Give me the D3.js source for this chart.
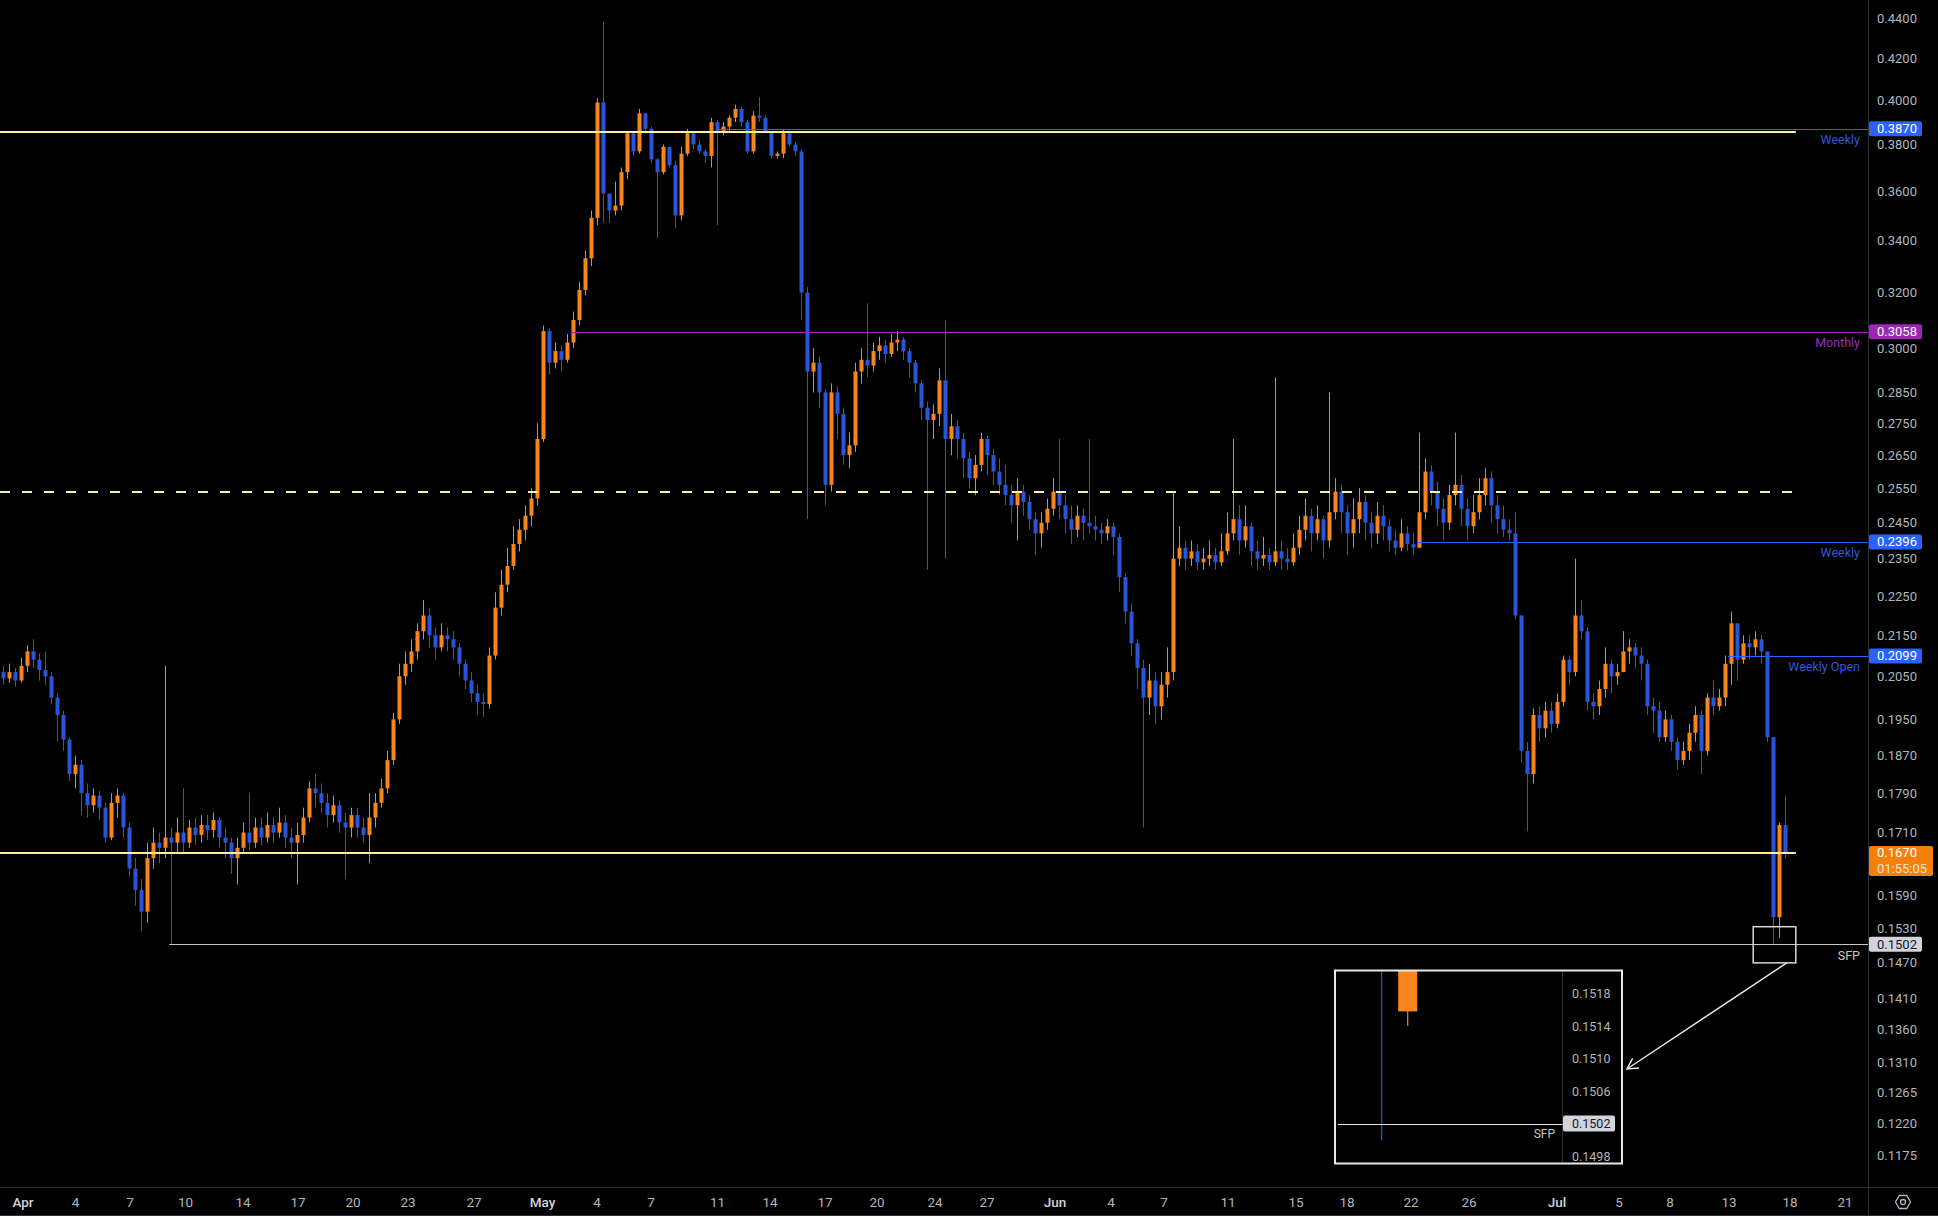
<!DOCTYPE html>
<html><head><meta charset="utf-8">
<script src="https://cdn.jsdelivr.net/npm/d3@7"></script>
<style>
html,body{margin:0;padding:0;background:#000;overflow:hidden;}
svg{display:block;font-family:Roboto,"Noto Sans",sans-serif;}
</style></head>
<body>
<svg id="chart" width="1938" height="1216"></svg>
<script>
// ---------------- DATA ----------------
const firstOpen = 0.2060;
const closes = [
0.2045,0.2060,0.2040,0.2075,0.2110,0.2090,0.2065,0.2050,0.2000,0.1960,
0.1905,0.1830,0.1850,0.1790,0.1765,0.1785,0.1760,0.1700,0.1770,0.1785,
0.1720,0.1640,0.1600,0.1560,0.1660,0.1690,0.1680,0.1700,0.1690,0.1710,
0.1690,0.1720,0.1705,0.1725,0.1715,0.1735,0.1700,0.1690,0.1660,0.1680,
0.1710,0.1690,0.1720,0.1700,0.1725,0.1710,0.1730,0.1700,0.1690,0.1705,
0.1740,0.1800,0.1790,0.1770,0.1745,0.1765,0.1730,0.1720,0.1745,0.1720,
0.1705,0.1740,0.1770,0.1800,0.1860,0.1950,0.2050,0.2080,0.2110,0.2160,
0.2200,0.2150,0.2120,0.2150,0.2140,0.2120,0.2080,0.2040,0.2010,0.1990,
0.1985,0.2100,0.2220,0.2280,0.2330,0.2390,0.2430,0.2470,0.2520,0.2700,
0.3060,0.2950,0.2990,0.2960,0.3020,0.3100,0.3210,0.3330,0.3490,0.3990,
0.3590,0.3520,0.3540,0.3680,0.3850,0.3770,0.3940,0.3870,0.3735,0.3680,
0.3790,0.3710,0.3500,0.3760,0.3850,0.3800,0.3770,0.3750,0.3900,0.3860,
0.3880,0.3920,0.3960,0.3900,0.3770,0.3930,0.3920,0.3860,0.3750,0.3760,
0.3850,0.3800,0.3770,0.3200,0.2920,0.2950,0.2850,0.2560,0.2850,0.2780,
0.2650,0.2680,0.2920,0.2960,0.2940,0.2990,0.3010,0.2980,0.3020,0.3030,
0.2990,0.2950,0.2880,0.2800,0.2760,0.2780,0.2890,0.2700,0.2740,0.2700,
0.2640,0.2580,0.2620,0.2700,0.2650,0.2600,0.2560,0.2530,0.2500,0.2540,
0.2510,0.2460,0.2420,0.2450,0.2490,0.2540,0.2500,0.2460,0.2430,0.2470,
0.2450,0.2440,0.2430,0.2420,0.2440,0.2410,0.2300,0.2210,0.2130,0.2070,
0.2000,0.2040,0.1980,0.2030,0.2060,0.2350,0.2380,0.2350,0.2370,0.2340,
0.2350,0.2360,0.2340,0.2370,0.2420,0.2460,0.2400,0.2440,0.2370,0.2350,
0.2360,0.2340,0.2370,0.2350,0.2340,0.2380,0.2430,0.2470,0.2420,0.2460,
0.2400,0.2480,0.2540,0.2480,0.2420,0.2460,0.2510,0.2450,0.2420,0.2470,
0.2440,0.2400,0.2380,0.2420,0.2390,0.2380,0.2480,0.2600,0.2540,0.2490,
0.2450,0.2530,0.2560,0.2490,0.2440,0.2480,0.2530,0.2580,0.2500,0.2460,
0.2430,0.2420,0.2200,0.1880,0.1830,0.1960,0.1930,0.1970,0.1940,0.1990,
0.2090,0.2060,0.2200,0.2160,0.1990,0.1980,0.2020,0.2080,0.2050,0.2060,
0.2110,0.2120,0.2100,0.2080,0.1980,0.1970,0.1910,0.1950,0.1900,0.1860,
0.1880,0.1920,0.1960,0.1880,0.2000,0.1980,0.2000,0.2080,0.2180,0.2090,
0.2130,0.2120,0.2140,0.2110,0.1910,0.1550,0.1725,0.1670];
const highs = [
0.2075,0.2080,0.2070,0.2095,0.2125,0.2140,0.2105,0.2110,0.2060,0.2010,
0.1970,0.1910,0.1870,0.1860,0.1810,0.1800,0.1795,0.1770,0.1790,0.1800,
0.1790,0.1730,0.1660,0.1620,0.1690,0.1720,0.1710,0.2075,0.1720,0.1740,
0.1800,0.1735,0.1740,0.1745,0.1745,0.1750,0.1740,0.1720,0.1700,0.1700,
0.1730,0.1790,0.1740,0.1740,0.1750,0.1740,0.1760,0.1745,0.1720,0.1730,
0.1760,0.1815,0.1830,0.1810,0.1790,0.1785,0.1775,0.1750,0.1760,0.1760,
0.1740,0.1790,0.1790,0.1820,0.1880,0.1965,0.2080,0.2110,0.2140,0.2180,
0.2240,0.2220,0.2170,0.2180,0.2170,0.2160,0.2130,0.2090,0.2060,0.2030,
0.2010,0.2120,0.2260,0.2320,0.2380,0.2440,0.2460,0.2500,0.2550,0.2750,
0.3080,0.3070,0.3020,0.3010,0.3050,0.3130,0.3240,0.3360,0.3520,0.4010,
0.4380,0.3590,0.3640,0.3700,0.3860,0.3850,0.3960,0.3920,0.3880,0.3740,
0.3800,0.3770,0.3730,0.3790,0.3870,0.3860,0.3820,0.3780,0.3920,0.3910,
0.3900,0.3930,0.3980,0.3970,0.3910,0.3950,0.4015,0.3930,0.3860,0.3770,
0.3870,0.3860,0.3810,0.3780,0.3220,0.3000,0.2970,0.2860,0.2880,0.2870,
0.2800,0.2720,0.2950,0.3000,0.3160,0.3020,0.3040,0.3030,0.3050,0.3060,
0.3040,0.3000,0.2960,0.2890,0.2820,0.2810,0.2930,0.3100,0.2780,0.2760,
0.2720,0.2660,0.2650,0.2720,0.2710,0.2670,0.2640,0.2620,0.2560,0.2580,
0.2560,0.2530,0.2480,0.2480,0.2520,0.2580,0.2700,0.2530,0.2500,0.2500,
0.2490,0.2700,0.2470,0.2450,0.2460,0.2450,0.2420,0.2310,0.2230,0.2140,
0.2090,0.2080,0.2060,0.2060,0.2120,0.2540,0.2440,0.2400,0.2400,0.2390,
0.2380,0.2400,0.2380,0.2420,0.2480,0.2700,0.2500,0.2500,0.2450,0.2400,
0.2410,0.2380,0.2900,0.2400,0.2380,0.2420,0.2470,0.2520,0.2490,0.2500,
0.2470,0.2850,0.2580,0.2560,0.2500,0.2520,0.2550,0.2530,0.2480,0.2510,
0.2500,0.2460,0.2430,0.2460,0.2440,0.2420,0.2720,0.2640,0.2620,0.2570,
0.2520,0.2560,0.2720,0.2590,0.2520,0.2530,0.2580,0.2610,0.2600,0.2530,
0.2500,0.2460,0.2480,0.2200,0.1900,0.1975,0.1980,0.1990,0.1990,0.2010,
0.2100,0.2100,0.2350,0.2240,0.2170,0.2010,0.2040,0.2120,0.2090,0.2080,
0.2160,0.2140,0.2130,0.2120,0.2090,0.2000,0.1990,0.1970,0.1960,0.1910,
0.1900,0.1940,0.1980,0.1970,0.2010,0.2040,0.2020,0.2100,0.2210,0.2180,
0.2150,0.2150,0.2160,0.2150,0.2110,0.1910,0.1730,0.1785];
const lows = [
0.2030,0.2035,0.2025,0.2035,0.2060,0.2070,0.2040,0.2030,0.1985,0.1900,
0.1880,0.1815,0.1800,0.1745,0.1740,0.1750,0.1735,0.1690,0.1695,0.1740,
0.1700,0.1625,0.1570,0.1525,0.1540,0.1640,0.1650,0.1660,0.1502,0.1670,
0.1670,0.1680,0.1685,0.1690,0.1695,0.1700,0.1680,0.1660,0.1630,0.1610,
0.1670,0.1675,0.1680,0.1685,0.1690,0.1690,0.1700,0.1680,0.1660,0.1610,
0.1690,0.1730,0.1760,0.1750,0.1720,0.1730,0.1710,0.1620,0.1700,0.1700,
0.1690,0.1650,0.1720,0.1760,0.1790,0.1850,0.1940,0.2030,0.2060,0.2090,
0.2140,0.2120,0.2090,0.2110,0.2110,0.2090,0.2050,0.2020,0.1990,0.1960,
0.1955,0.1975,0.2090,0.2200,0.2260,0.2320,0.2370,0.2400,0.2440,0.2500,
0.2690,0.2910,0.2930,0.2920,0.2950,0.3000,0.3080,0.3190,0.3300,0.3460,
0.3470,0.3470,0.3500,0.3520,0.3650,0.3750,0.3760,0.3850,0.3720,0.3410,
0.3670,0.3700,0.3450,0.3480,0.3750,0.3780,0.3760,0.3720,0.3700,0.3460,
0.3840,0.3860,0.3900,0.3880,0.3760,0.3760,0.3900,0.3850,0.3740,0.3740,
0.3740,0.3790,0.3750,0.3100,0.2460,0.2850,0.2800,0.2500,0.2540,0.2700,
0.2620,0.2610,0.2660,0.2880,0.2900,0.2920,0.2960,0.2950,0.2970,0.2990,
0.2960,0.2900,0.2850,0.2760,0.2320,0.2700,0.2740,0.2350,0.2650,0.2640,
0.2580,0.2550,0.2530,0.2600,0.2590,0.2560,0.2530,0.2500,0.2450,0.2400,
0.2470,0.2430,0.2360,0.2380,0.2430,0.2470,0.2460,0.2420,0.2390,0.2410,
0.2400,0.2420,0.2400,0.2390,0.2400,0.2360,0.2260,0.2180,0.2100,0.2020,
0.1720,0.1960,0.1940,0.1950,0.2000,0.2040,0.2330,0.2320,0.2330,0.2320,
0.2320,0.2330,0.2320,0.2330,0.2360,0.2400,0.2360,0.2380,0.2330,0.2320,
0.2330,0.2320,0.2330,0.2320,0.2320,0.2330,0.2360,0.2400,0.2370,0.2400,
0.2350,0.2380,0.2460,0.2420,0.2360,0.2380,0.2420,0.2400,0.2380,0.2390,
0.2400,0.2370,0.2360,0.2370,0.2370,0.2360,0.2380,0.2460,0.2500,0.2440,
0.2400,0.2430,0.2500,0.2440,0.2400,0.2420,0.2460,0.2500,0.2450,0.2420,
0.2410,0.2400,0.2190,0.1855,0.1712,0.1810,0.1900,0.1910,0.1920,0.1930,
0.1980,0.2030,0.2050,0.2140,0.1970,0.1950,0.1960,0.2000,0.2010,0.2030,
0.2070,0.2080,0.2070,0.2040,0.1960,0.1920,0.1900,0.1900,0.1880,0.1840,
0.1850,0.1860,0.1900,0.1830,0.1870,0.1960,0.1970,0.1980,0.2030,0.2040,
0.2080,0.2090,0.2100,0.2080,0.1900,0.1500,0.1513,0.1660];

// price axis ticks
const priceTicks = [0.4400,0.4200,0.4000,0.3800,0.3600,0.3400,0.3200,0.3000,0.2850,0.2750,
  0.2650,0.2550,0.2450,0.2350,0.2250,0.2150,0.2050,0.1950,0.1870,0.1790,0.1710,
  0.1590,0.1530,0.1470,0.1410,0.1360,0.1310,0.1265,0.1220,0.1175];
// time axis labels and the bar they sit on
const dateLabels = ["Apr","4","7","10","14","17","20","23","27","May","4","7","11","14","17","20","24","27",
  "Jun","4","7","11","15","18","22","26","Jul","5","8","13","18","21"];
const dateBars = [3.83,12.58,21.67,30.93,40.5,49.67,58.83,68,79,90.42,99.5,108.5,119.6,128.33,137.5,146.17,155.83,164.5,
  175.83,185.17,194,204.67,216,224.5,235.17,244.83,259.5,269.83,278.33,288.17,298.33,307.5];
const monthNames = ["Apr","May","Jun","Jul"];

// horizontal levels
const levelPrice    = [0.3855, 0.3870, 0.3058, 0.2540, 0.2396, 0.2099, 0.1670, 0.1502];
const levelText     = ["", "Weekly", "Monthly", "", "Weekly", "Weekly Open", "", "SFP"];
const levelStartBar = [0, 119.5, 95.2, 0, 236.3, 288, 0, 28.2];
const levelEndBar   = [299.3, null, null, 299.3, null, null, 299.3, null];
const levelKind     = ["yellow","blue","purple","yellowDash","blue","blue","yellow","grey"];
const countdownText = "01:55:05";

// SFP zoom box (bars / prices)
const sfpBoxBars = [292.2, 299.3];
const sfpBoxPrices = [0.1533, 0.1470];

// inset (lower timeframe zoom of the low)
const insetOpen  = [0.1560, 0.15158];
const insetHigh  = [0.1570, 0.1535];
const insetLow   = [0.14999, 0.1514];
const insetClose = [0.1540, 0.1530];
const insetTicks = [0.1518, 0.1514, 0.1510, 0.1506, 0.1498];
const insetLevel = 0.1502;
const insetRange = [0.149708, 0.152083];

// view state
const visibleBars = 311.333;
const priceRange = [0.11333, 0.4494];

// ---------------- STYLE / LAYOUT ----------------
const W = 1938, H = 1216, PR = 1868, PB = 1187;
const UP = "#f7851c", DOWN = "#2b55d8";
const AXIS_TXT = "#b2b5be", SEP = "#2a2e39";
const kindStyle = {
  yellow:     {stroke:"#fff09a", width:2, dash:null},
  yellowDash: {stroke:"#fff09a", width:2, dash:"10,12"},
  blue:       {stroke:"#2962ff", width:1, dash:null, txt:"#3059d9", tag:"#2962ff", tagTxt:"#fff"},
  purple:     {stroke:"#9c27b0", width:1, dash:null, txt:"#9b2fb0", tag:"#9c27b0", tagTxt:"#fff"},
  grey:       {stroke:"#c8c8c8", width:1, dash:null, txt:"#c8c8c8", tag:"#d1d4dc", tagTxt:"#131722"}
};

const svg = d3.select("#chart");
svg.append("rect").attr("width", W).attr("height", H).attr("fill", "#000");

const x = d3.scaleLinear().domain([0, visibleBars]).range([0, PR]);
const y = d3.scaleLog().domain(priceRange).range([PB, 0]);

svg.append("defs").append("clipPath").attr("id","plotClip")
  .append("rect").attr("x",0).attr("y",0).attr("width",PR).attr("height",PB);

const plot = svg.append("g").attr("clip-path","url(#plotClip)");

// candles
const candles = closes.map((c, i) => {
  const o = i === 0 ? firstOpen : closes[i-1];
  return {i, o, c, h: Math.max(highs[i], o, c), l: Math.min(lows[i], o, c)};
});
const cg = plot.append("g");
candles.forEach(d => {
  const cx = Math.round(x(d.i + 0.5));
  const col = d.c >= d.o ? UP : DOWN;
  cg.append("line").attr("x1", cx + 0.5).attr("x2", cx + 0.5)
    .attr("y1", y(d.h)).attr("y2", y(d.l)).attr("stroke", col).attr("stroke-width", 1);
  const top = y(Math.max(d.o, d.c)), bot = y(Math.min(d.o, d.c));
  cg.append("rect").attr("x", cx - 1.5).attr("width", 4)
    .attr("y", top).attr("height", Math.max(1, bot - top)).attr("fill", col);
});

// levels
const lg = svg.append("g");
levelPrice.forEach((p, k) => {
  const st = kindStyle[levelKind[k]];
  const yy = Math.round(y(p)) + (st.width === 1 ? 0.5 : 0);
  const x2 = levelEndBar[k] == null ? PR : x(levelEndBar[k]);
  lg.append("line").attr("x1", x(levelStartBar[k])).attr("x2", x2)
    .attr("y1", yy).attr("y2", yy).attr("stroke", st.stroke)
    .attr("stroke-width", st.width).attr("stroke-dasharray", st.dash);
  if (levelText[k]) {
    lg.append("text").attr("x", 1860).attr("y", y(p) + 11)
      .attr("text-anchor","end").attr("dominant-baseline","central")
      .attr("font-size", 12.5).attr("fill", st.txt).text(levelText[k]);
  }
});

// right axis
const ax = svg.append("g");
ax.append("line").attr("x1", PR + 0.5).attr("x2", PR + 0.5).attr("y1", 0).attr("y2", H).attr("stroke", SEP);
ax.append("line").attr("x1", 0).attr("x2", W).attr("y1", PB + 0.5).attr("y2", PB + 0.5).attr("stroke", SEP);
ax.append("line").attr("x1", 0).attr("x2", W).attr("y1", 1215.5).attr("y2", 1215.5).attr("stroke", SEP);
priceTicks.forEach(p => {
  ax.append("text").attr("x", 1877).attr("y", y(p)).attr("dominant-baseline","central")
    .attr("font-size", 13).attr("fill", AXIS_TXT).text(p.toFixed(4));
});
// level tags on axis
levelPrice.forEach((p, k) => {
  const st = kindStyle[levelKind[k]];
  if (!st.tag) return;
  const yy = y(p);
  ax.append("rect").attr("x", 1869).attr("y", yy - 7.5).attr("width", 53).attr("height", 15)
    .attr("rx", 2).attr("fill", st.tag);
  ax.append("text").attr("x", 1877).attr("y", yy).attr("dominant-baseline","central")
    .attr("font-size", 13).attr("fill", st.tagTxt).text(p.toFixed(4));
});
// current price tag
const last = candles[candles.length - 1];
{
  const yy = y(last.c);
  ax.append("rect").attr("x", 1869).attr("y", yy - 7).attr("width", 64).attr("height", 30)
    .attr("rx", 2).attr("fill", "#f57f0c");
  ax.append("text").attr("x", 1877).attr("y", yy).attr("dominant-baseline","central")
    .attr("font-size", 13).attr("fill", "#fff").text(last.c.toFixed(4));
  ax.append("text").attr("x", 1877).attr("y", yy + 16).attr("dominant-baseline","central")
    .attr("font-size", 13).attr("fill", "#ffe6cc").text(countdownText);
}

// time axis
dateLabels.forEach((t, k) => {
  const isMonth = monthNames.includes(t);
  ax.append("text").attr("x", x(dateBars[k])).attr("y", 1202).attr("text-anchor","middle")
    .attr("dominant-baseline","central").attr("font-size", 13.5)
    .attr("font-weight", isMonth ? 500 : 400)
    .attr("fill", isMonth ? "#d1d4dc" : AXIS_TXT).text(t);
});
// settings icon
{
  const cx = 1903, cy = 1202, r = 7.5;
  const hex = d3.range(6).map(k => {
    const a = Math.PI / 3 * k;
    return [cx + r * Math.cos(a), cy + r * Math.sin(a)];
  });
  ax.append("path").attr("d", "M" + hex.join("L") + "Z").attr("fill","none")
    .attr("stroke", AXIS_TXT).attr("stroke-width", 1.3);
  ax.append("circle").attr("cx", cx).attr("cy", cy).attr("r", 2.5).attr("fill","none")
    .attr("stroke", AXIS_TXT).attr("stroke-width", 1.3);
}

// SFP box on main chart
const bx0 = x(sfpBoxBars[0]), bx1 = x(sfpBoxBars[1]);
const by0 = y(sfpBoxPrices[0]), by1 = y(sfpBoxPrices[1]);
svg.append("rect").attr("x", bx0).attr("y", by0).attr("width", bx1 - bx0).attr("height", by1 - by0)
  .attr("fill","none").attr("stroke","#d9d9d9").attr("stroke-width", 1.5);

// inset
const IN = {x: 1335, y: 970.5, w: 287, h: 193, axisX: 1562.5};
const yi = d3.scaleLinear().domain(insetRange).range([IN.y + IN.h, IN.y]);
const xi = d3.scaleLinear().domain([0, 1]).range([1381.7, 1407.7]);
const ig = svg.append("g");
ig.append("rect").attr("x", IN.x).attr("y", IN.y).attr("width", IN.w).attr("height", IN.h).attr("fill","#000");
const iclip = svg.select("defs").append("clipPath").attr("id","insetClip");
iclip.append("rect").attr("x", IN.x).attr("y", IN.y).attr("width", IN.axisX - IN.x).attr("height", IN.h);
const icg = ig.append("g").attr("clip-path","url(#insetClip)");
insetClose.forEach((c, k) => {
  const o = insetOpen[k];
  const col = c >= o ? UP : DOWN;
  const cx = xi(k);
  icg.append("line").attr("x1", cx).attr("x2", cx).attr("y1", yi(insetHigh[k])).attr("y2", yi(insetLow[k]))
    .attr("stroke", col).attr("stroke-width", 1.2);
  const top = yi(Math.max(o, c)), bot = yi(Math.min(o, c));
  icg.append("rect").attr("x", cx - 9.5).attr("width", 19).attr("y", top).attr("height", bot - top).attr("fill", col);
});
ig.append("line").attr("x1", IN.axisX).attr("x2", IN.axisX).attr("y1", IN.y).attr("y2", IN.y + IN.h).attr("stroke", SEP);
ig.append("line").attr("x1", IN.x + 3).attr("x2", IN.axisX).attr("y1", Math.round(yi(insetLevel)) + 0.5)
  .attr("y2", Math.round(yi(insetLevel)) + 0.5).attr("stroke", "#e6e6e6").attr("stroke-width", 1);
ig.append("text").attr("x", 1555).attr("y", yi(insetLevel) + 10.5).attr("text-anchor","end")
  .attr("dominant-baseline","central").attr("font-size", 12).attr("fill", "#c8c8c8").text("SFP");
insetTicks.forEach(p => {
  ig.append("text").attr("x", 1572).attr("y", yi(p)).attr("dominant-baseline","central")
    .attr("font-size", 12.5).attr("fill", AXIS_TXT).text(p.toFixed(4));
});
ig.append("rect").attr("x", 1563).attr("y", yi(insetLevel) - 8).attr("width", 52).attr("height", 16)
  .attr("rx", 2).attr("fill", "#d1d4dc");
ig.append("text").attr("x", 1572).attr("y", yi(insetLevel)).attr("dominant-baseline","central")
  .attr("font-size", 12.5).attr("fill", "#131722").text(insetLevel.toFixed(4));
ig.append("rect").attr("x", IN.x).attr("y", IN.y).attr("width", IN.w).attr("height", IN.h)
  .attr("fill","none").attr("stroke","#e8e8e8").attr("stroke-width", 2);

// arrow from SFP box to inset
const ax0 = x(297.8), ay0 = by1, ax1 = IN.x + IN.w + 5, ay1 = 1069;
svg.append("line").attr("x1", ax0).attr("y1", ay0).attr("x2", ax1).attr("y2", ay1)
  .attr("stroke", "#e8e8e8").attr("stroke-width", 1.5);
{
  const ang = Math.atan2(ay0 - ay1, ax0 - ax1);
  const L = 12, spread = 0.5;
  const p1 = [ax1 + L * Math.cos(ang + spread), ay1 + L * Math.sin(ang + spread)];
  const p2 = [ax1 + L * Math.cos(ang - spread), ay1 + L * Math.sin(ang - spread)];
  svg.append("path").attr("d", `M${p1}L${ax1},${ay1}L${p2}`).attr("fill","none")
    .attr("stroke","#e8e8e8").attr("stroke-width", 1.5);
}
</script>
</body></html>
